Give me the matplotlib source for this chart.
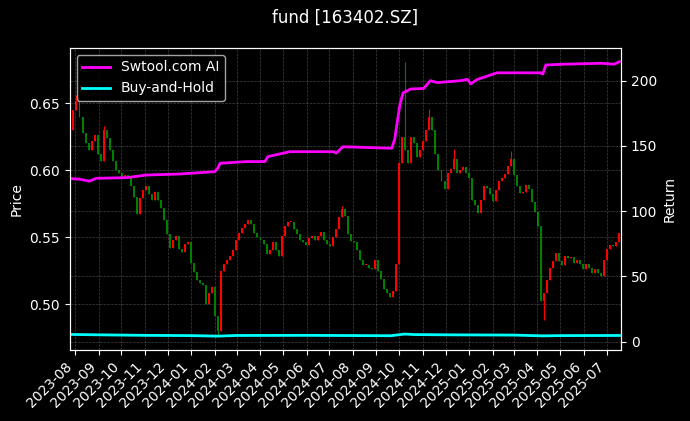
import numpy as np
import pandas as pd
import matplotlib
matplotlib.use("Agg")
import matplotlib.pyplot as plt
import matplotlib.dates as mdates

plt.style.use("dark_background")

# --- data ---
start_date, end_date = "2023-07-26", "2025-07-18"
first_open = 0.625
closes = [
    0.630, 0.645, 0.652, 0.640, 0.628, 0.620, 0.615, 0.622, 0.626, 0.612,
    0.607, 0.630, 0.624, 0.615, 0.607, 0.600, 0.598, 0.595, 0.596, 0.594,
    0.588, 0.580, 0.567, 0.579, 0.585, 0.588, 0.582, 0.578, 0.584, 0.578,
    0.572, 0.563, 0.552, 0.542, 0.548, 0.551, 0.541, 0.539, 0.545, 0.546,
    0.531, 0.524, 0.518, 0.516, 0.514, 0.500, 0.508, 0.513, 0.491, 0.480,
    0.525, 0.530, 0.533, 0.536, 0.540, 0.548, 0.553, 0.557, 0.560, 0.563,
    0.560, 0.553, 0.550, 0.548, 0.545, 0.537, 0.540, 0.546, 0.540, 0.536,
    0.551, 0.558, 0.561, 0.561, 0.556, 0.552, 0.548, 0.546, 0.544, 0.549,
    0.551, 0.548, 0.551, 0.554, 0.548, 0.545, 0.543, 0.550, 0.556, 0.565,
    0.571, 0.566, 0.552, 0.547, 0.546, 0.540, 0.533, 0.529, 0.529, 0.527,
    0.526, 0.533, 0.525, 0.519, 0.511, 0.508, 0.505, 0.510, 0.530, 0.605,
    0.625, 0.615, 0.605, 0.625, 0.620, 0.610, 0.615, 0.622, 0.630, 0.640,
    0.630, 0.612, 0.600, 0.592, 0.586, 0.598, 0.601, 0.608, 0.598, 0.600,
    0.602, 0.598, 0.594, 0.578, 0.574, 0.568, 0.578, 0.588, 0.587, 0.582,
    0.577, 0.585, 0.592, 0.594, 0.597, 0.603, 0.608, 0.596, 0.588, 0.583,
    0.584, 0.589, 0.586, 0.576, 0.569, 0.558, 0.502, 0.508, 0.518, 0.527,
    0.532, 0.538, 0.532, 0.529, 0.536, 0.534, 0.535, 0.531, 0.533, 0.530,
    0.526, 0.530, 0.527, 0.523, 0.526, 0.523, 0.521, 0.533, 0.541, 0.544,
    0.543, 0.546, 0.553,
]

# long wicks (highs / lows) visible on the chart
spike_dates = ["2023-08-03", "2023-09-07", "2024-02-05", "2024-07-16", "2024-10-08",
               "2024-11-08", "2024-12-10", "2025-02-24", "2025-04-07", "2025-04-08"]
spike_values = [0.656, 0.633, 0.476, 0.573, 0.681, 0.646, 0.616, 0.614, 0.546, 0.488]

ai_dates = ["2023-07-26", "2023-08-07", "2023-08-20", "2023-08-29", "2023-10-08",
            "2023-11-03", "2023-12-17", "2024-02-01", "2024-02-05", "2024-02-08",
            "2024-03-14", "2024-04-07", "2024-04-11", "2024-05-10", "2024-07-06",
            "2024-07-10", "2024-07-19", "2024-09-21", "2024-09-25", "2024-09-28",
            "2024-10-02", "2024-10-06", "2024-10-16", "2024-11-02", "2024-11-11",
            "2024-11-20", "2024-12-21", "2024-12-30", "2025-01-03", "2025-01-12",
            "2025-02-07", "2025-04-05", "2025-04-08", "2025-04-12", "2025-05-06",
            "2025-06-24", "2025-07-11", "2025-07-18"]
ai_values = [125.0, 124.5, 123.0, 125.2, 125.7,
             127.7, 128.5, 130.3, 133.0, 136.7,
             138.0, 138.0, 141.8, 145.6, 145.6,
             144.5, 149.4, 148.2, 155.0, 167.0,
             182.0, 190.6, 193.6, 194.0, 200.0,
             198.5, 200.0, 201.0, 197.5, 201.0,
             206.0, 206.0, 205.0, 212.0, 212.6,
             213.3, 212.6, 214.5]

bh_dates = ["2023-07-26", "2023-09-01", "2023-11-01", "2024-01-01", "2024-02-05",
            "2024-03-01", "2024-06-01", "2024-09-20", "2024-10-08", "2024-10-20",
            "2024-12-01", "2025-03-01", "2025-04-08", "2025-05-01", "2025-07-18"]
bh_values = [5.6, 5.3, 4.9, 4.7, 4.3,
             4.8, 4.9, 4.6, 5.9, 5.5,
             5.3, 5.1, 4.5, 4.7, 4.8]

# --- candles ---
dates = pd.date_range(start_date, end_date, periods=len(closes))
closes = np.array(closes)
opens = np.r_[first_open, closes[:-1]]
highs = np.maximum(opens, closes)
lows = np.minimum(opens, closes)
for d, v in zip(spike_dates, spike_values):
    i = int(np.argmin(np.abs((dates - pd.Timestamp(d)).days)))
    highs[i] = max(highs[i], v)
    lows[i] = min(lows[i], v)

colors = np.where(closes >= opens, "red", "green")
body_low = np.minimum(opens, closes)
body_h = np.maximum(np.abs(closes - opens), 0.0008)

fig, ax = plt.subplots(figsize=(6.9, 4.21), dpi=100)
fig.subplots_adjust(left=0.101, right=0.9, top=0.886, bottom=0.169)

ax.vlines(dates, lows, highs, colors=colors, linewidth=0.8)
ax.bar(dates, body_h, bottom=body_low, width=2.6, color=colors, linewidth=0)
ax.set_ylabel("Price")
ax.grid(True, linestyle="--", linewidth=0.5, color="gray", alpha=0.5)

ax2 = ax.twinx()
ax2.plot(pd.to_datetime(ai_dates), ai_values, color="magenta", linewidth=2, label="Swtool.com AI")
ax2.plot(pd.to_datetime(bh_dates), bh_values, color="cyan", linewidth=2, label="Buy-and-Hold")
ax2.set_ylabel("Return")
ax2.grid(True, linestyle="--", linewidth=0.5, color="gray", alpha=0.5)
ax2.legend(loc="upper left")

ax.xaxis.set_major_locator(mdates.MonthLocator())
ax.xaxis.set_major_formatter(mdates.DateFormatter("%Y-%m"))
plt.setp(ax.get_xticklabels(), rotation=45, ha="right")
ax.set_xlim(dates[0] - pd.Timedelta(days=1), dates[-1] + pd.Timedelta(days=2))

fig.suptitle("fund [163402.SZ]")
fig.savefig("out.png", dpi=100)
